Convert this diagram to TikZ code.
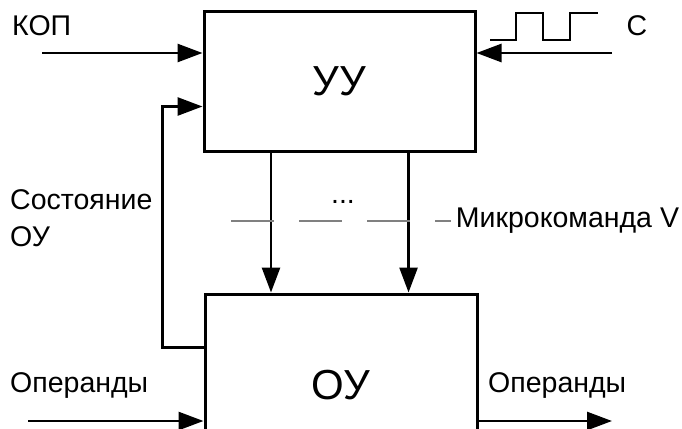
\documentclass[tikz,border=0pt]{standalone}
\usepackage{fontspec}
\setmainfont{Liberation Sans}
\usetikzlibrary{arrows.meta,calc}
\tikzset{
	block/.style={draw, line width=3pt, inner sep=0pt, font=\fontsize{42}{46}\selectfont},
	lbl/.style={inner sep=0pt, font=\fontsize{28.5}{37}\selectfont},
	sig/.style={line width=2.7pt, -{Triangle[length=25pt,width=18pt]}},
	wire/.style={line width=2.7pt}
}

\begin{document}
\begin{tikzpicture}[x=1pt, y=-1pt]
		%%%%% START %%%%%
		\useasboundingbox (0,0) rectangle (682,428);
		\clip (0,0) rectangle (682,428);
		
		\node[block, minimum width=271pt, minimum height=139pt] (uu) at (339.5,81.5) {УУ};
		\node[block, minimum width=272pt, minimum height=176pt] (ou) at (341,382) {};
		\node[inner sep=0pt, font=\fontsize{42}{46}\selectfont] (oulbl) at (341,385) {ОУ};
		
		% inputs of the control unit
		\coordinate (kop) at (42,53);
		\coordinate (clk) at (612,53);
		\draw[sig] (kop) -- (kop -| uu.west);
		\draw[sig] (clk) -- (clk -| uu.east);
		\node[lbl, anchor=west] (kopl) at (12,26) {КОП};
		\node[lbl] (clkl) at (637,26) {С};
		\draw[wire] (490,40) -- (516,40) -- (516,13) -- (543,13) -- (543,40) -- (570,40) -- (570,13) -- (598,13);
		
		% microcommands
		\draw[sig] ($(uu.south west)!0.25!(uu.south east)$) coordinate (m1) -- (m1 |- ou.north);
		\draw[sig] ($(uu.south west)!0.752!(uu.south east)$) coordinate (m2) -- (m2 |- ou.north);
		\coordinate (mcl) at (231,221);
		\coordinate (mcr) at (451,221);
		\draw[line width=2.4pt, color=black!50, dash pattern=on 43pt off 25pt] (mcl) -- (mcr);
		\node[lbl, anchor=base] (dots) at (343,203) {...};
		\node[lbl, anchor=west] (mcv) at (mcr) {\,Микрокоманда V};
		
		% state feedback
		\draw[sig] ([yshift=-55pt]ou.north west) -- ++(-41pt,0) |- ([yshift=-96pt]uu.north west);
		\node[lbl, anchor=west, align=left] (state) at (10,218) {Состояние\\ОУ};
		
		% operands
		\coordinate (opin) at (28,421);
		\coordinate (opout) at (612,421);
		\draw[sig] (opin) -- (opin -| ou.west);
		\draw[sig] (opout -| ou.east) -- (opout);
		\node[lbl, anchor=west] (opinl) at (10,386) {Операнды};
		\node[lbl, anchor=west] (opoutl) at (488,386) {Операнды};
		%%%%% END %%%%%
	\end{tikzpicture}
\end{document}
